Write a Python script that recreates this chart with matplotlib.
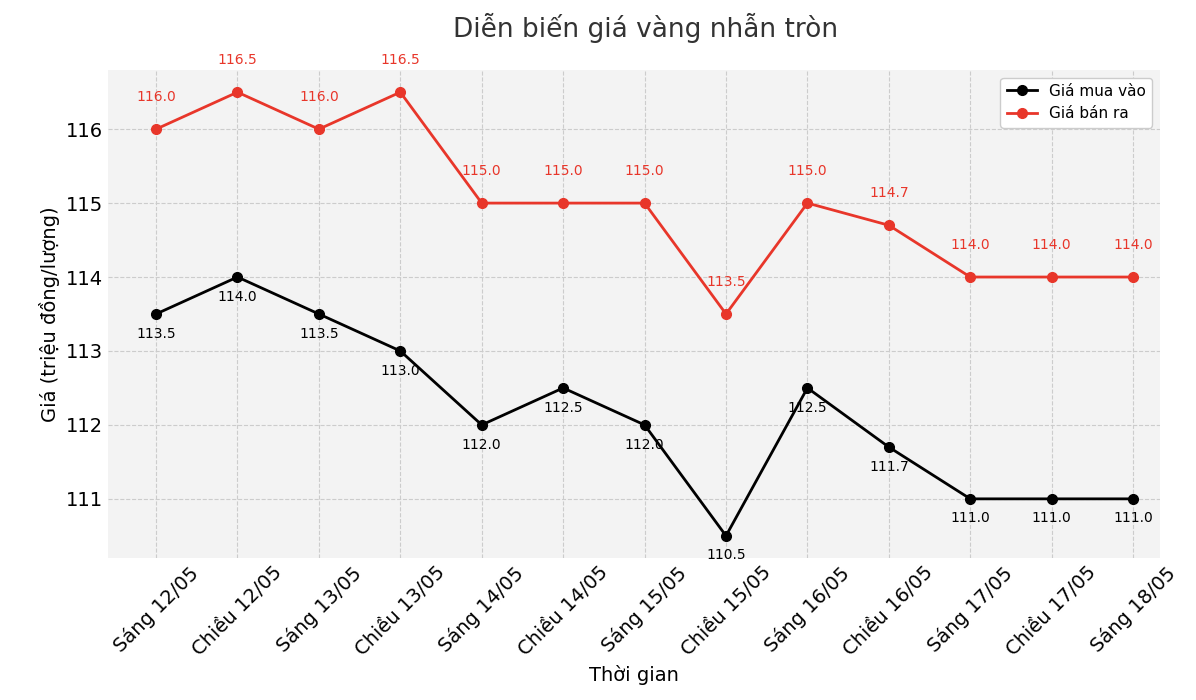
import matplotlib
matplotlib.use("Agg")
import matplotlib.pyplot as plt

categories = ["Sáng 12/05","Chiều 12/05","Sáng 13/05","Chiều 13/05","Sáng 14/05","Chiều 14/05",
              "Sáng 15/05","Chiều 15/05","Sáng 16/05","Chiều 16/05","Sáng 17/05","Chiều 17/05","Sáng 18/05"]
buy = [113.5,114.0,113.5,113.0,112.0,112.5,112.0,110.5,112.5,111.7,111.0,111.0,111.0]
sell = [116.0,116.5,116.0,116.5,115.0,115.0,115.0,113.5,115.0,114.7,114.0,114.0,114.0]
yticks = [111,112,113,114,115,116]

fig = plt.figure(figsize=(11.96,7), dpi=100)
ax = fig.add_axes([108/1196, 1-558/700, 1052/1196, 488/700])
ax.set_facecolor("#f3f3f3")
x = list(range(len(categories)))
ax.plot(x, buy, "-o", color="black", lw=2, ms=7, label="Giá mua vào")
ax.plot(x, sell, "-o", color="#e8362a", lw=2, ms=7, label="Giá bán ra")
for i,(b,s) in enumerate(zip(buy,sell)):
    ax.annotate(f"{b:.1f}", (i,b), xytext=(0,-17), textcoords="offset points", ha="center", fontsize=10, color="black")
    ax.annotate(f"{s:.1f}", (i,s), xytext=(0,20), textcoords="offset points", ha="center", fontsize=10, color="#e8362a")
ax.set_xlim(-0.59, 12.33)
ax.set_ylim(110.2, 116.8)
ax.set_yticks(yticks)
ax.set_xticks(x)
ax.set_xticklabels(categories, rotation=45, fontsize=14)
ax.tick_params(axis="y", labelsize=14, length=0)
ax.tick_params(axis="x", length=0)
ax.grid(True, linestyle="--", color="#cccccc", lw=0.8)
for sp in ax.spines.values():
    sp.set_visible(False)
ax.set_xlabel("Thời gian", fontsize=14)
ax.set_ylabel("Giá (triệu đồng/lượng)", fontsize=14)
fig.text(0.54, 1-28/700, "Diễn biến giá vàng nhẫn tròn", ha="center", va="center", fontsize=19, color="#333333")
ax.legend(loc="upper right", fontsize=11, facecolor="white", framealpha=1)
fig.savefig("out.png", dpi=100)
